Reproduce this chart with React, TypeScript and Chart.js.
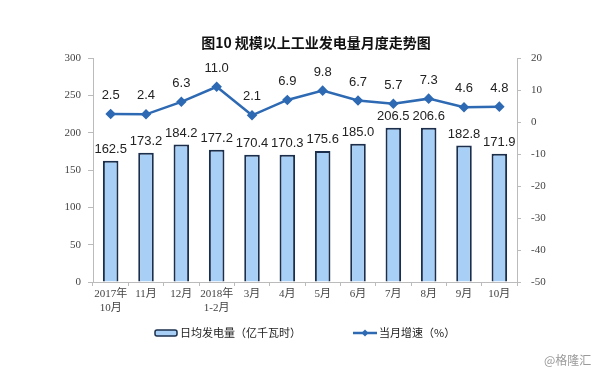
import React, { useEffect, useRef } from "react";
import { Chart, registerables } from "chart.js";

Chart.register(...registerables);

const categories: (string | string[])[] = [
  ["2017年", "10月"], "11月", "12月", ["2018年", "1-2月"], "3月", "4月", "5月", "6月", "7月", "8月", "9月", "10月",
];
const dailyOutput = [162.5, 173.2, 184.2, 177.2, 170.4, 170.3, 175.6, 185.0, 206.5, 206.6, 182.8, 171.9];
const growth = [2.5, 2.4, 6.3, 11.0, 2.1, 6.9, 9.8, 6.7, 5.7, 7.3, 4.6, 4.8];
const barLabel = "日均发电量（亿千瓦时）";
const lineLabel = "当月增速（%）";
const title = "图10 规模以上工业发电量月度走势图";
const watermark = "@格隆汇";

const BAR_FILL = "#A8D0F6";
const BAR_BORDER = "#1B2F4D";
const LINE_COLOR = "#2E6AB3";

const overlayPlugin = {
  id: "overlay",
  afterDatasetsDraw(chart: any) {
    const ctx = chart.ctx;
    ctx.save();
    ctx.fillStyle = "#222";
    ctx.textAlign = "center";
    ctx.textBaseline = "bottom";
    ctx.font = "13px Arial, 'Liberation Sans', sans-serif";
    const barMeta = chart.getDatasetMeta(0);
    barMeta.data.forEach((el: any, i: number) => {
      ctx.fillText(dailyOutput[i].toFixed(1), el.x, el.y - 5);
    });
    const lineMeta = chart.getDatasetMeta(1);
    lineMeta.data.forEach((el: any, i: number) => {
      ctx.fillText(growth[i].toFixed(1), el.x, el.y - 12);
    });
    ctx.restore();
  },
  afterDraw(chart: any) {
    const ctx = chart.ctx;
    ctx.save();
    ctx.fillStyle = "#111";
    ctx.textAlign = "center";
    ctx.textBaseline = "middle";
    ctx.font = "bold 14px 'Noto Sans CJK SC', sans-serif";
    ctx.fillText(title, 316, 43);
    const ly = 333;
    ctx.font = "11px 'Noto Sans CJK SC', sans-serif";
    ctx.textAlign = "left";
    ctx.fillStyle = BAR_FILL;
    ctx.strokeStyle = BAR_BORDER;
    ctx.lineWidth = 1.5;
    ctx.beginPath();
    if (ctx.roundRect) ctx.roundRect(155, ly - 3, 22, 6, 2);
    else ctx.rect(155, ly - 3, 22, 6);
    ctx.fill();
    ctx.stroke();
    ctx.fillStyle = "#222";
    ctx.fillText(barLabel, 180, ly);
    ctx.strokeStyle = LINE_COLOR;
    ctx.lineWidth = 2.5;
    ctx.beginPath();
    ctx.moveTo(353, ly);
    ctx.lineTo(377, ly);
    ctx.stroke();
    ctx.fillStyle = LINE_COLOR;
    ctx.beginPath();
    ctx.moveTo(365, ly - 3.5);
    ctx.lineTo(368.5, ly);
    ctx.lineTo(365, ly + 3.5);
    ctx.lineTo(361.5, ly);
    ctx.closePath();
    ctx.fill();
    ctx.fillStyle = "#222";
    ctx.fillText(lineLabel, 379, ly);
    ctx.fillStyle = "#9a9a9a";
    ctx.font = "12px 'Noto Sans CJK SC', sans-serif";
    ctx.fillText(watermark, 544, 360);
    ctx.restore();
  },
};

export default function App() {
  const ref = useRef<HTMLCanvasElement>(null);
  useEffect(() => {
    document.body.style.margin = "0";
    const tickFont = { family: "'Liberation Serif', 'Noto Sans CJK SC', serif", size: 11 };
    const chart = new Chart(ref.current!, {
      data: {
        labels: categories,
        datasets: [
          {
            type: "bar",
            label: barLabel,
            data: dailyOutput,
            backgroundColor: BAR_FILL,
            borderColor: BAR_BORDER,
            borderWidth: 2,
            categoryPercentage: 1,
            barPercentage: 0.44,
            yAxisID: "y",
            order: 2,
          },
          {
            type: "line",
            label: lineLabel,
            data: growth,
            borderColor: LINE_COLOR,
            backgroundColor: LINE_COLOR,
            borderWidth: 2.5,
            pointStyle: "rectRot",
            pointRadius: 3.5,
            pointBackgroundColor: LINE_COLOR,
            tension: 0,
            yAxisID: "y1",
            order: 1,
          },
        ],
      } as any,
      options: {
        animation: false,
        responsive: false,
        layout: { padding: { top: 58, left: 0, right: 0, bottom: 0 } },
        plugins: { legend: { display: false }, tooltip: { enabled: false }, title: { display: false } },
        scales: {
          x: {
            offset: true,
            grid: { offset: true, drawOnChartArea: false, tickLength: 4, color: "#bbb" },
            border: { color: "#bbb" },
            ticks: { color: "#444", font: tickFont, padding: 2, maxRotation: 0, autoSkip: false },
            afterFit(s: any) { s.height = 94; },
          },
          y: {
            position: "left",
            min: 0,
            max: 300,
            ticks: { stepSize: 50, color: "#444", font: tickFont, padding: 7 },
            grid: { drawOnChartArea: false, tickLength: 5, color: "#bbb" },
            border: { color: "#bbb" },
            afterFit(s: any) { s.width = 93; },
          },
          y1: {
            position: "right",
            min: -50,
            max: 20,
            ticks: { stepSize: 10, color: "#444", font: tickFont, padding: 10 },
            grid: { drawOnChartArea: false, tickLength: 4, color: "#bbb" },
            border: { color: "#bbb" },
            afterFit(s: any) { s.width = 83; },
          },
        },
      } as any,
      plugins: [overlayPlugin],
    });
    return () => chart.destroy();
  }, []);
  return (
    <div style={{ width: 600, height: 376, background: "#fff" }}>
      <canvas ref={ref} width={600} height={376} />
    </div>
  );
}
